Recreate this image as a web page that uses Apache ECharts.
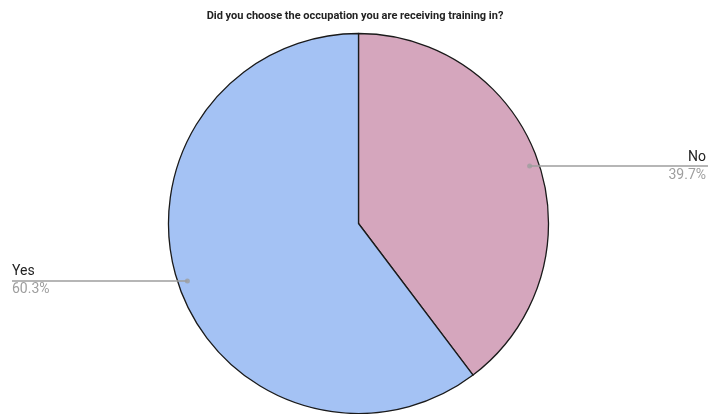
<!DOCTYPE html>
<html>
<head>
<meta charset="utf-8">
<script src="https://cdn.jsdelivr.net/npm/echarts@6/dist/echarts.min.js"></script>
<style>html,body{margin:0;padding:0;background:#fff;}#c{width:710px;height:414px;}</style>
</head>
<body>
<div id="c"></div>
<script>
const titleText = 'Did you choose the occupation you are receiving training in?';
const categories = ['No', 'Yes'];
const values = [39.7, 60.3];
const percentLabels = ['39.7%', '60.3%'];

const CX = 358.5, CY = 223.5, R = 190, DOT = 0.95;
const sliceColors = ['#d5a6bd', '#a4c2f4'];

const total = values.reduce((a, b) => a + b, 0);
const mids = [];
let acc = 0;
values.forEach(v => { mids.push(acc + v / 2); acc += v; });

const chart = echarts.init(document.getElementById('c'));
chart.setOption({
  animation: false,
  title: {
    text: titleText,
    left: 'center',
    top: 6,
    textStyle: { fontFamily: 'Roboto', fontSize: 11, fontWeight: 'bold', color: '#222' }
  },
  polar: { center: [CX, CY], radius: R },
  angleAxis: { type: 'value', min: 0, max: total, startAngle: 90, clockwise: true, show: false },
  radiusAxis: { type: 'value', min: 0, max: 1, show: false },
  series: [
    {
      type: 'pie',
      center: [CX, CY],
      radius: R,
      startAngle: 90,
      clockwise: true,
      silent: true,
      data: categories.map((c, i) => ({
        name: c,
        value: values[i],
        itemStyle: { color: sliceColors[i] }
      })),
      itemStyle: { borderColor: '#1a1a1a', borderWidth: 1.3 },
      label: { show: false },
      labelLine: { show: false }
    },
    {
      type: 'pie',
      center: [CX, CY],
      radius: R * DOT,
      startAngle: 90,
      clockwise: true,
      silent: true,
      z: 3,
      data: categories.map((c, i) => ({
        name: c,
        value: values[i],
        label: { formatter: '{n|' + c + '}\n{p|' + percentLabels[i] + '}' }
      })),
      itemStyle: { color: 'rgba(0,0,0,0)', borderWidth: 0 },
      label: {
        show: true,
        position: 'outside',
        fontFamily: 'Roboto',
        rich: {
          n: { fontFamily: 'Roboto', fontSize: 14, color: '#222', lineHeight: 18 },
          p: { fontFamily: 'Roboto', fontSize: 14, color: '#9e9e9e', lineHeight: 18 }
        }
      },
      labelLine: { show: true, showAbove: true, length: 0, length2: 10, lineStyle: { color: '#9e9e9e', width: 1.5 } },
      labelLayout: function (params) {
        const p = params.labelLinePoints;
        if (!p) return {};
        const sx = p[0][0];
        const sy = p[0][1];
        const left = sx < CX;
        const ex = left ? 12 : 708;
        return {
          x: left ? 12 : 706,
          y: sy,
          align: left ? 'left' : 'right',
          verticalAlign: 'middle',
          labelLinePoints: [[sx, sy], [sx, sy], [ex, sy]]
        };
      }
    },
    {
      type: 'scatter',
      coordinateSystem: 'polar',
      symbol: 'circle',
      symbolSize: 5,
      silent: true,
      itemStyle: { color: '#9e9e9e' },
      data: mids.map(m => [DOT, m]),
      z: 5
    }
  ]
});
</script>
</body>
</html>
